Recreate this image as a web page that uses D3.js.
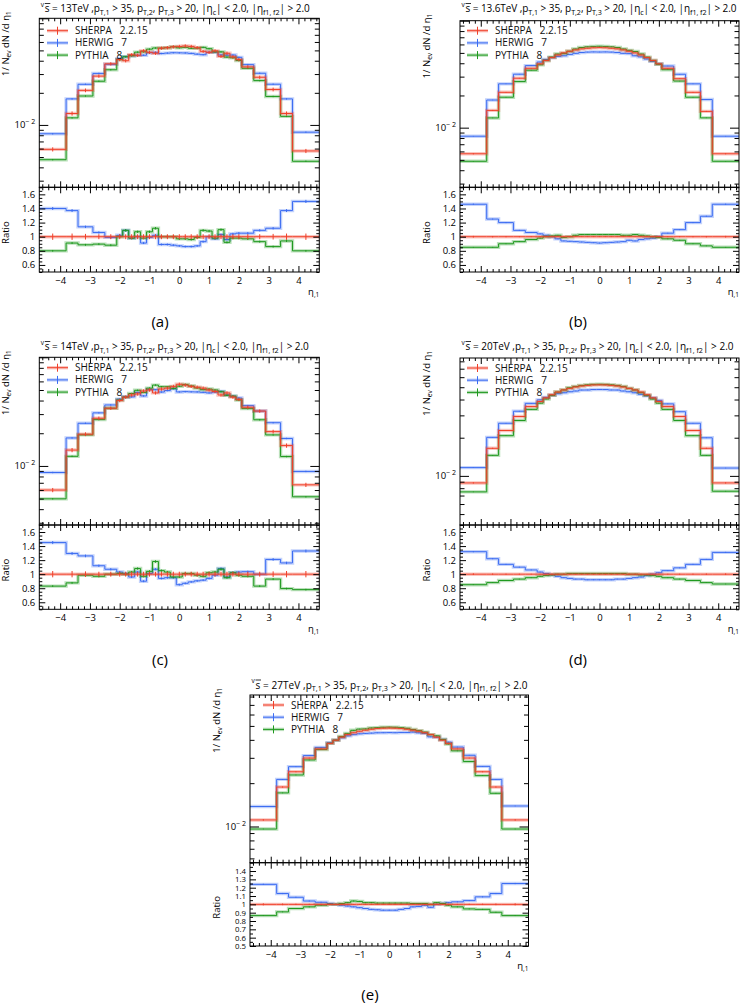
<!DOCTYPE html>
<html>
<head>
<meta charset="utf-8">
<script src="https://cdn.jsdelivr.net/npm/d3@7"></script>
<style>
  body { margin: 0; background: #fff; }
  svg text { font-family: "Open Sans", sans-serif; white-space: pre; }
</style>
</head>
<body>
<script>
var svgWidth = 740;
var svgHeight = 1005;

// bin edges in eta (31 bins)
var etaEdges = [-4.7, -3.8, -3.4, -2.9, -2.5, -2.1, -1.9, -1.7, -1.5, -1.3, -1.1, -0.9, -0.7, -0.5, -0.3, -0.1,
  0.1, 0.3, 0.5, 0.7, 0.9, 1.1, 1.3, 1.5, 1.7, 1.9, 2.1, 2.5, 2.9, 3.4, 3.8, 4.7];

var legendNames = ["SHERPA   2.2.15", "HERWIG   7", "PYTHIA   8"];

// (a) 13 TeV
var sherpa13 = [0.0059, 0.0128, 0.0211, 0.0287, 0.0374, 0.041, 0.040, 0.0455, 0.045, 0.0495, 0.048, 0.047, 0.0525, 0.053, 0.054, 0.0545,
  0.055, 0.0545, 0.053, 0.049, 0.048, 0.0495, 0.044, 0.047, 0.0435, 0.041, 0.035, 0.028, 0.0215, 0.0128, 0.0057];
var herwig13 = [0.00826, 0.01754, 0.02405, 0.03042, 0.03703, 0.04182, 0.0436, 0.04459, 0.045, 0.04505, 0.04752, 0.04794, 0.04673, 0.04717, 0.04752, 0.04742,
  0.0473, 0.04687, 0.04611, 0.04557, 0.048, 0.04802, 0.04532, 0.04512, 0.04524, 0.04305, 0.03675, 0.03052, 0.02408, 0.01754, 0.00855];
var pythia13 = [0.00472, 0.01165, 0.01867, 0.02569, 0.03291, 0.041, 0.0436, 0.04459, 0.04815, 0.04851, 0.05136, 0.05264, 0.0525, 0.053, 0.054, 0.05287,
  0.05335, 0.05232, 0.05247, 0.05341, 0.05184, 0.04851, 0.0484, 0.04324, 0.04263, 0.04018, 0.03395, 0.02604, 0.01849, 0.01203, 0.00456];
var herwigRatio13 = [1.40, 1.37, 1.14, 1.06, 0.99, 1.02, 1.09, 0.98, 1.0, 0.91, 0.99, 1.02, 0.89, 0.89, 0.88, 0.87,
  0.86, 0.86, 0.87, 0.93, 1.0, 0.97, 1.03, 0.96, 1.04, 1.05, 1.05, 1.09, 1.12, 1.37, 1.50];
var pythiaRatio13 = [0.80, 0.91, 0.885, 0.895, 0.88, 1.0, 1.09, 0.98, 1.07, 0.98, 1.07, 1.12, 1.0, 1.0, 1.0, 0.97,
  0.97, 0.96, 0.99, 1.09, 1.08, 0.98, 1.1, 0.92, 0.98, 0.98, 0.97, 0.93, 0.86, 0.94, 0.80];
var sherpaErr13 = [0.045, 0.045, 0.04, 0.035, 0.035, 0.035, 0.035, 0.035, 0.035, 0.035, 0.035, 0.035, 0.035, 0.035, 0.035, 0.035,
  0.035, 0.035, 0.035, 0.035, 0.035, 0.035, 0.035, 0.035, 0.035, 0.035, 0.035, 0.035, 0.04, 0.045, 0.045];

// (b) 13.6 TeV
var sherpa136 = [0.0057, 0.0145, 0.0214, 0.0290, 0.0359, 0.0395, 0.0425, 0.0452, 0.0478, 0.0500, 0.0518, 0.0533, 0.0545, 0.0553, 0.0558, 0.0560,
  0.0558, 0.0553, 0.0545, 0.0533, 0.0518, 0.0500, 0.0478, 0.0452, 0.0425, 0.0395, 0.0359, 0.0287, 0.0214, 0.0142, 0.0057];
var herwig136 = [0.00832, 0.01813, 0.02568, 0.03161, 0.03805, 0.04108, 0.04335, 0.0452, 0.04637, 0.047, 0.04843, 0.04957, 0.05041, 0.05088, 0.05106, 0.05096,
  0.05106, 0.05088, 0.05041, 0.04957, 0.04921, 0.047, 0.04589, 0.04384, 0.04165, 0.0395, 0.0377, 0.03157, 0.02568, 0.01832, 0.00832];
var pythia136 = [0.00485, 0.01233, 0.01926, 0.02697, 0.03446, 0.03871, 0.0425, 0.04565, 0.04876, 0.0495, 0.0518, 0.05437, 0.05614, 0.05696, 0.05747, 0.05768,
  0.05747, 0.05696, 0.05614, 0.05437, 0.05284, 0.0515, 0.04876, 0.04565, 0.0425, 0.03911, 0.03482, 0.02727, 0.01926, 0.01235, 0.00485];
var herwigRatio136 = [1.46, 1.25, 1.20, 1.09, 1.06, 1.04, 1.02, 1.0, 0.97, 0.94, 0.935, 0.93, 0.925, 0.92, 0.915, 0.91,
  0.915, 0.92, 0.925, 0.93, 0.95, 0.94, 0.96, 0.97, 0.98, 1.0, 1.05, 1.10, 1.20, 1.29, 1.46];
var pythiaRatio136 = [0.85, 0.85, 0.90, 0.93, 0.96, 0.98, 1.0, 1.01, 1.02, 0.99, 1.0, 1.02, 1.03, 1.03, 1.03, 1.03,
  1.03, 1.03, 1.03, 1.02, 1.02, 1.03, 1.02, 1.01, 1.0, 0.99, 0.97, 0.95, 0.90, 0.87, 0.85];
var sherpaErr136 = [0.012, 0.01, 0.008, 0.007, 0.006, 0.005, 0.005, 0.005, 0.005, 0.005, 0.005, 0.005, 0.005, 0.005, 0.005, 0.005,
  0.005, 0.005, 0.005, 0.005, 0.005, 0.005, 0.005, 0.005, 0.005, 0.005, 0.006, 0.007, 0.008, 0.01, 0.012];

// (c) 14 TeV
var sherpa14 = [0.0060, 0.0140, 0.0196, 0.0275, 0.0340, 0.040, 0.043, 0.045, 0.046, 0.049, 0.050, 0.047, 0.051, 0.052, 0.054, 0.0565,
  0.0555, 0.054, 0.053, 0.052, 0.050, 0.0485, 0.045, 0.047, 0.043, 0.041, 0.0347, 0.032, 0.0207, 0.0154, 0.0067];
var herwig14 = [0.0087, 0.0181, 0.0247, 0.0308, 0.0364, 0.0412, 0.0434, 0.0432, 0.0474, 0.0441, 0.0505, 0.0503, 0.0479, 0.0494, 0.0513, 0.048,
  0.0483, 0.0481, 0.048, 0.0476, 0.047, 0.0478, 0.0486, 0.0451, 0.0439, 0.0422, 0.0359, 0.032, 0.025, 0.0179, 0.0089];
var pythia14 = [0.00498, 0.01226, 0.0193, 0.0267, 0.034, 0.0404, 0.043, 0.0464, 0.0497, 0.0475, 0.052, 0.0555, 0.0536, 0.0536, 0.0518, 0.0542,
  0.0561, 0.0545, 0.0522, 0.0504, 0.051, 0.05, 0.0482, 0.0447, 0.0439, 0.0404, 0.0337, 0.0266, 0.0193, 0.0122, 0.0052];
var herwigRatio14 = [1.45, 1.295, 1.26, 1.12, 1.07, 1.03, 1.01, 0.96, 1.03, 0.90, 1.01, 1.07, 0.94, 0.95, 0.95, 0.85,
  0.87, 0.89, 0.905, 0.915, 0.94, 0.985, 1.08, 0.96, 1.02, 1.03, 1.035, 1.0, 1.21, 1.16, 1.33];
var pythiaRatio14 = [0.83, 0.876, 0.985, 0.97, 1.0, 1.01, 1.0, 1.03, 1.08, 0.97, 1.04, 1.18, 1.05, 1.03, 0.96, 0.96,
  1.01, 1.01, 0.985, 0.97, 1.02, 1.03, 1.07, 0.95, 1.02, 0.985, 0.97, 0.83, 0.93, 0.795, 0.78];
var sherpaErr14 = [0.045, 0.045, 0.04, 0.035, 0.035, 0.035, 0.035, 0.035, 0.035, 0.035, 0.035, 0.035, 0.035, 0.035, 0.035, 0.035,
  0.035, 0.035, 0.035, 0.035, 0.035, 0.035, 0.035, 0.035, 0.035, 0.035, 0.035, 0.035, 0.04, 0.045, 0.045];

// (d) 20 TeV
var sherpa20 = [0.0088, 0.0165, 0.0228, 0.0294, 0.0352, 0.0386, 0.0412, 0.0436, 0.0458, 0.0476, 0.049, 0.0502, 0.0511, 0.0517, 0.0521, 0.0522,
  0.0521, 0.0517, 0.0511, 0.0502, 0.049, 0.0476, 0.0458, 0.0436, 0.0412, 0.0386, 0.0352, 0.0294, 0.0228, 0.0165, 0.0088];
var herwig20 = [0.01162, 0.02013, 0.026, 0.03234, 0.03731, 0.03976, 0.04161, 0.04316, 0.04443, 0.04522, 0.04606, 0.04669, 0.04752, 0.04756, 0.04793, 0.04802,
  0.04793, 0.04756, 0.04752, 0.04669, 0.04606, 0.04522, 0.04397, 0.04273, 0.0412, 0.03937, 0.03696, 0.03205, 0.026, 0.01997, 0.01153];
var pythia20 = [0.00748, 0.01452, 0.02075, 0.02734, 0.03344, 0.03744, 0.04038, 0.04316, 0.0458, 0.0476, 0.04949, 0.0507, 0.05161, 0.05222, 0.05262, 0.05272,
  0.05262, 0.05222, 0.05161, 0.0507, 0.049, 0.0476, 0.04534, 0.04316, 0.04038, 0.03744, 0.03344, 0.02734, 0.02075, 0.01452, 0.00757];
var herwigRatio20 = [1.32, 1.22, 1.14, 1.10, 1.06, 1.03, 1.01, 0.99, 0.97, 0.95, 0.94, 0.93, 0.93, 0.92, 0.92, 0.92,
  0.92, 0.92, 0.93, 0.93, 0.94, 0.95, 0.96, 0.98, 1.0, 1.02, 1.05, 1.09, 1.14, 1.21, 1.31];
var pythiaRatio20 = [0.85, 0.88, 0.91, 0.93, 0.95, 0.97, 0.98, 0.99, 1.0, 1.0, 1.01, 1.01, 1.01, 1.01, 1.01, 1.01,
  1.01, 1.01, 1.01, 1.01, 1.0, 1.0, 0.99, 0.99, 0.98, 0.97, 0.95, 0.93, 0.91, 0.88, 0.86];
var sherpaErr20 = sherpaErr136;

// (e) 27 TeV
var sherpa27 = [0.0111, 0.0188, 0.0240, 0.0299, 0.0346, 0.0378, 0.0398, 0.0418, 0.0435, 0.0448, 0.0459, 0.0467, 0.0474, 0.0479, 0.0482, 0.0483,
  0.0482, 0.0479, 0.0474, 0.0467, 0.0459, 0.0448, 0.0435, 0.0418, 0.0398, 0.0378, 0.0346, 0.0299, 0.0240, 0.0188, 0.0111];
var herwig27 = [0.01376, 0.02124, 0.02604, 0.0311, 0.03547, 0.03818, 0.0398, 0.04138, 0.04263, 0.04346, 0.04406, 0.04437, 0.04456, 0.04479, 0.04483, 0.04492,
  0.04483, 0.04503, 0.04503, 0.0453, 0.04475, 0.04435, 0.04198, 0.0418, 0.0402, 0.03856, 0.03564, 0.03125, 0.02616, 0.02124, 0.01388];
var pythia27 = [0.0096, 0.01711, 0.0228, 0.029, 0.03425, 0.0378, 0.0398, 0.04222, 0.04437, 0.04659, 0.04751, 0.04763, 0.04835, 0.04862, 0.04892, 0.04902,
  0.04892, 0.04862, 0.04811, 0.04717, 0.04636, 0.04525, 0.0435, 0.04264, 0.0402, 0.03742, 0.03356, 0.02826, 0.02256, 0.01701, 0.0096];
var herwigRatio27 = [1.24, 1.13, 1.085, 1.04, 1.025, 1.01, 1.0, 0.99, 0.98, 0.97, 0.96, 0.95, 0.94, 0.935, 0.93, 0.93,
  0.93, 0.94, 0.95, 0.97, 0.975, 0.99, 0.965, 1.0, 1.01, 1.02, 1.03, 1.045, 1.09, 1.13, 1.25];
var pythiaRatio27 = [0.865, 0.91, 0.95, 0.97, 0.99, 1.0, 1.0, 1.01, 1.02, 1.04, 1.035, 1.02, 1.02, 1.015, 1.015, 1.015,
  1.015, 1.015, 1.015, 1.01, 1.01, 1.01, 1.0, 1.02, 1.01, 0.99, 0.97, 0.945, 0.94, 0.905, 0.865];
var sherpaErr27 = sherpaErr136;

// panel layout
var panels = [
  { tag: "(a)", energy: "13", sherpa: sherpa13, herwig: herwig13, pythia: pythia13, herwigRatio: herwigRatio13, pythiaRatio: pythiaRatio13, err: sherpaErr13, modelErr: 0.015,
    left: 39.3, right: 319.3, top: 18.3, mid: 187.3, bottom: 272, yDomain: [0.0026, 0.1], rDomain: [0.5, 1.7],
    rMajor: [0.6, 0.8, 1, 1.2, 1.4, 1.6], rFont: 9.5, titleY: 12, titleLen: 265, legX: 47, legY: 30.7, tagX: 160, tagY: 327 },
  { tag: "(b)", energy: "13.6", sherpa: sherpa136, herwig: herwig136, pythia: pythia136, herwigRatio: herwigRatio136, pythiaRatio: pythiaRatio136, err: sherpaErr136, modelErr: 0.006,
    left: 460, right: 739, top: 20.7, mid: 187.3, bottom: 272, yDomain: [0.00277, 0.1], rDomain: [0.5, 1.7],
    rMajor: [0.6, 0.8, 1, 1.2, 1.4, 1.6], rFont: 9.5, titleY: 12, titleLen: 271, legX: 467, legY: 30.7, tagX: 578, tagY: 327 },
  { tag: "(c)", energy: "14", sherpa: sherpa14, herwig: herwig14, pythia: pythia14, herwigRatio: herwigRatio14, pythiaRatio: pythiaRatio14, err: sherpaErr14, modelErr: 0.015,
    left: 39.3, right: 319.3, top: 357.3, mid: 525, bottom: 609.3, yDomain: [0.00286, 0.1], rDomain: [0.5, 1.7],
    rMajor: [0.6, 0.8, 1, 1.2, 1.4, 1.6], rFont: 9.5, titleY: 350, titleLen: 264, legX: 47, legY: 367.7, tagX: 160, tagY: 665 },
  { tag: "(d)", energy: "20", sherpa: sherpa20, herwig: herwig20, pythia: pythia20, herwigRatio: herwigRatio20, pythiaRatio: pythiaRatio20, err: sherpaErr20, modelErr: 0.006,
    left: 460, right: 739, top: 358, mid: 525, bottom: 609.3, yDomain: [0.0041, 0.085], rDomain: [0.5, 1.7],
    rMajor: [0.6, 0.8, 1, 1.2, 1.4, 1.6], rFont: 9.5, titleY: 350, titleLen: 268, legX: 467, legY: 368, tagX: 578, tagY: 665 },
  { tag: "(e)", energy: "27", sherpa: sherpa27, herwig: herwig27, pythia: pythia27, herwigRatio: herwigRatio27, pythiaRatio: pythiaRatio27, err: sherpaErr27, modelErr: 0.006,
    left: 250, right: 528.5, top: 695, mid: 862.7, bottom: 946, yDomain: [0.0056, 0.082], rDomain: [0.5, 1.5],
    rMajor: [0.5, 0.6, 0.7, 0.8, 0.9, 1, 1.1, 1.2, 1.3, 1.4], rFont: 7.8, titleY: 688.5, titleLen: 272, legX: 263, legY: 705, tagX: 370, tagY: 1000 }
];

var colors = { sherpa: "#f0402a", herwig: "#3b6cf2", pythia: "#1f991f" };

var svg = d3.select("body")
  .append("svg")
  .attr("width", svgWidth)
  .attr("height", svgHeight);

svg.append("rect").attr("width", svgWidth).attr("height", svgHeight).attr("fill", "#fff");

var etaMajor = d3.range(-4, 5, 1);
var etaMinor = d3.range(-46, 47, 2).map(d => d / 10).filter(d => Math.abs(d - Math.round(d)) > 0.01);

function binCenters() {
  return d3.range(etaEdges.length - 1).map(i => (etaEdges[i] + etaEdges[i + 1]) / 2);
}

// step-histogram path
function stepPath(x, y, vals) {
  var pts = vals.map((v, i) => [etaEdges[i], v]);
  pts.push([etaEdges[vals.length], vals[vals.length - 1]]);
  return d3.line().x(d => x(d[0])).y(d => y(d[1])).curve(d3.curveStepAfter)(pts);
}

function drawHist(g, x, y, vals, relErr, color) {
  g.append("path")
    .attr("d", stepPath(x, y, vals))
    .attr("fill", "none")
    .attr("stroke", color)
    .attr("stroke-opacity", 0.3)
    .attr("stroke-width", 3.4);
  g.append("path")
    .attr("d", stepPath(x, y, vals))
    .attr("fill", "none")
    .attr("stroke", color)
    .attr("stroke-width", 1);
  var centers = binCenters();
  g.selectAll(null)
    .data(vals)
    .enter()
    .append("line")
    .attr("x1", (d, i) => x(centers[i]))
    .attr("x2", (d, i) => x(centers[i]))
    .attr("y1", (d, i) => y(d * (1 - relErr[i])))
    .attr("y2", (d, i) => y(d * (1 + relErr[i])))
    .attr("stroke", color)
    .attr("stroke-width", 1);
}

function styleAxis(g) {
  g.select(".domain").remove();
  g.selectAll("line").attr("stroke", "#000");
  g.attr("font-size", 9.5);
  g.selectAll("text").attr("fill", "#000");
}

function drawPanel(p) {
  var x = d3.scaleLinear().domain([-4.7, 4.7]).range([p.left, p.right]);
  var yU = d3.scaleLog().domain(p.yDomain).range([p.mid, p.top]);
  var yR = d3.scaleLinear().domain(p.rDomain).range([p.bottom, p.mid]);
  var g = svg.append("g");
  var id = "clip" + p.tag.replace(/[()]/g, "");

  var defs = svg.append("defs");
  defs.append("clipPath").attr("id", id + "u").append("rect")
    .attr("x", p.left).attr("y", p.top).attr("width", p.right - p.left).attr("height", p.mid - p.top);
  defs.append("clipPath").attr("id", id + "r").append("rect")
    .attr("x", p.left).attr("y", p.mid).attr("width", p.right - p.left).attr("height", p.bottom - p.mid);

  // upper histograms
  var upper = g.append("g").attr("clip-path", "url(#" + id + "u)");
  var modelErrs = p.sherpa.map(() => p.modelErr);
  drawHist(upper, x, yU, p.herwig, modelErrs, colors.herwig);
  drawHist(upper, x, yU, p.pythia, modelErrs, colors.pythia);
  drawHist(upper, x, yU, p.sherpa, p.err, colors.sherpa);

  // ratio histograms
  var lower = g.append("g").attr("clip-path", "url(#" + id + "r)");
  drawHist(lower, x, yR, p.herwigRatio, modelErrs, colors.herwig);
  drawHist(lower, x, yR, p.pythiaRatio, modelErrs, colors.pythia);
  drawHist(lower, x, yR, p.sherpa.map((d, i) => d / p.sherpa[i]), p.err, colors.sherpa);

  // frames
  [[p.top, p.mid], [p.mid, p.bottom]].forEach(function(r) {
    g.append("rect")
      .attr("x", p.left).attr("y", r[0])
      .attr("width", p.right - p.left).attr("height", r[1] - r[0])
      .attr("fill", "none").attr("stroke", "#000").attr("stroke-width", 1);
  });

  // x ticks (inward) on every horizontal edge
  [[p.top, d3.axisTop], [p.mid, d3.axisBottom], [p.mid, d3.axisTop]].forEach(function(e) {
    g.append("g").attr("transform", `translate(0,${e[0]})`)
      .call(e[1](x).tickValues(etaMajor).tickSize(-6).tickFormat(""))
      .call(styleAxis);
    g.append("g").attr("transform", `translate(0,${e[0]})`)
      .call(e[1](x).tickValues(etaMinor).tickSize(-3).tickFormat(""))
      .call(styleAxis);
  });
  g.append("g").attr("transform", `translate(0,${p.bottom})`)
    .call(d3.axisBottom(x).tickValues(etaMajor).tickSize(-6).tickPadding(5).tickFormat(d3.format("d")))
    .call(styleAxis);
  g.append("g").attr("transform", `translate(0,${p.bottom})`)
    .call(d3.axisBottom(x).tickValues(etaMinor).tickSize(-3).tickFormat(""))
    .call(styleAxis);

  // log y ticks
  var logMajor = [0.001, 0.01, 0.1].filter(d => d >= p.yDomain[0] && d <= p.yDomain[1]);
  var logMinor = [];
  [0.001, 0.01].forEach(function(dec) {
    d3.range(2, 10).forEach(function(k) {
      var v = k * dec;
      if (v >= p.yDomain[0] && v <= p.yDomain[1]) logMinor.push(v);
    });
  });
  [[p.left, d3.axisLeft], [p.right, d3.axisRight]].forEach(function(e) {
    g.append("g").attr("transform", `translate(${e[0]},0)`)
      .call(e[1](yU).tickValues(logMajor).tickSize(-9).tickFormat(""))
      .call(styleAxis);
    g.append("g").attr("transform", `translate(${e[0]},0)`)
      .call(e[1](yU).tickValues(logMinor).tickSize(-4.5).tickFormat(""))
      .call(styleAxis);
  });
  var lab = g.append("text")
    .attr("x", p.left - 4).attr("y", yU(0.01) + 3.5)
    .attr("text-anchor", "end").attr("font-size", 9.5);
  lab.append("tspan").text("10");
  lab.append("tspan").attr("dy", -4).attr("font-size", 7).text("\u2212 2");

  // ratio y ticks
  var rMinor = d3.range(Math.round(p.rDomain[0] * 100), Math.round(p.rDomain[1] * 100) + 1, 5)
    .map(d => d / 100)
    .filter(d => p.rMajor.every(m => Math.abs(m - d) > 0.001));
  var rFormat = d => (d === 1 ? "1" : d3.format(".1f")(d));
  g.append("g").attr("transform", `translate(${p.left},0)`)
    .call(d3.axisLeft(yR).tickValues(p.rMajor).tickSize(-6).tickPadding(4).tickFormat(rFormat))
    .call(styleAxis)
    .attr("font-size", p.rFont);
  g.append("g").attr("transform", `translate(${p.left},0)`)
    .call(d3.axisLeft(yR).tickValues(rMinor).tickSize(-3).tickFormat(""))
    .call(styleAxis);
  g.append("g").attr("transform", `translate(${p.right},0)`)
    .call(d3.axisRight(yR).tickValues(p.rMajor).tickSize(-6).tickFormat(""))
    .call(styleAxis);
  g.append("g").attr("transform", `translate(${p.right},0)`)
    .call(d3.axisRight(yR).tickValues(rMinor).tickSize(-3).tickFormat(""))
    .call(styleAxis);

  // axis titles
  var yt = g.append("text")
    .attr("transform", `translate(${p.left - 30},${p.top - 7}) rotate(-90)`)
    .attr("text-anchor", "end").attr("font-size", 9.5);
  yt.append("tspan").text("1/ N");
  yt.append("tspan").attr("dy", 2).attr("font-size", 6.5).text("ev");
  yt.append("tspan").attr("dy", -2).text(" dN /d \u03b7");
  yt.append("tspan").attr("dy", 2).attr("font-size", 6.5).text("1");

  g.append("text")
    .attr("transform", `translate(${p.left - 30},${(p.mid + p.bottom) / 2 + 3}) rotate(-90)`)
    .attr("text-anchor", "middle").attr("font-size", 9.5)
    .text("Ratio");

  var xt = g.append("text")
    .attr("x", p.right).attr("y", p.bottom + 23)
    .attr("text-anchor", "end").attr("font-size", 9.5);
  xt.append("tspan").text("\u03b7");
  xt.append("tspan").attr("dy", 2).attr("font-size", 6.5).text(",1");

  // title
  var tx = p.left + 5.5;
  var title = g.append("text")
    .attr("x", tx).attr("y", p.titleY)
    .attr("font-size", 10)
    .attr("textLength", p.titleLen).attr("lengthAdjust", "spacing");
  var parts = [["s = " + p.energy + "TeV ,p", 0], ["T,1", 1], [" > 35, p", 0], ["T,2", 1], [", p", 0], ["T,3", 1],
    [" > 20, |\u03b7", 0], ["c", 1], ["| < 2.0, |\u03b7", 0], ["f1, f2", 1], ["| > 2.0", 0]];
  var prev = 0;
  parts.forEach(function(d) {
    title.append("tspan")
      .attr("dy", (d[1] - prev) * 2.5)
      .attr("font-size", d[1] ? 7.2 : 10)
      .text(d[0]);
    prev = d[1];
  });
  g.append("text").attr("x", p.left + 1.5).attr("y", p.titleY - 5.5).attr("font-size", 6.5).text("v");
  g.append("line")
    .attr("x1", tx).attr("x2", tx + 5.5)
    .attr("y1", p.titleY - 8.5).attr("y2", p.titleY - 8.5)
    .attr("stroke", "#000").attr("stroke-width", 0.8);

  // legend
  var keys = ["sherpa", "herwig", "pythia"];
  keys.forEach(function(k, i) {
    var ly = p.legY + i * 12.2;
    g.append("line")
      .attr("x1", p.legX).attr("x2", p.legX + 21).attr("y1", ly).attr("y2", ly)
      .attr("stroke", colors[k]).attr("stroke-opacity", 0.3).attr("stroke-width", 3.4);
    g.append("line")
      .attr("x1", p.legX).attr("x2", p.legX + 21).attr("y1", ly).attr("y2", ly)
      .attr("stroke", colors[k]).attr("stroke-width", 1);
    g.append("line")
      .attr("x1", p.legX + 10.5).attr("x2", p.legX + 10.5).attr("y1", ly - 4).attr("y2", ly + 4)
      .attr("stroke", colors[k]).attr("stroke-width", 1);
    g.append("text")
      .attr("x", p.legX + 28).attr("y", ly + 3.5)
      .attr("font-size", 10)
      .attr("fill", "#111")
      .text(legendNames[i]);
  });

  // panel tag
  svg.append("text")
    .attr("x", p.tagX).attr("y", p.tagY)
    .attr("text-anchor", "middle").attr("font-size", 15)
    .text(p.tag);
}

panels.forEach(drawPanel);
</script>
</body>
</html>
